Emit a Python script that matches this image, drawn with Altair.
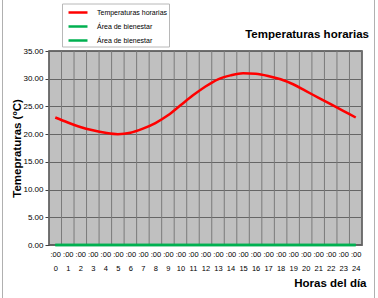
import altair as alt
import pandas as pd

hours = list(range(25))
temps = [23.0, 22.1, 21.3, 20.7, 20.25, 20.0, 20.25, 21.0, 22.0, 23.4, 25.2, 27.0,
         28.6, 29.9, 30.6, 31.0, 30.9, 30.5, 29.9, 29.0, 27.8, 26.6, 25.4, 24.2, 23.0]
bienestar_1 = [0.0, 0.0, 0.0, 0.0, 0.0, 0.0, 0.0, 0.0, 0.0, 0.0, 0.0, 0.0, 0.0,
               0.0, 0.0, 0.0, 0.0, 0.0, 0.0, 0.0, 0.0, 0.0, 0.0, 0.0, 0.0]
bienestar_2 = [0.0, 0.0, 0.0, 0.0, 0.0, 0.0, 0.0, 0.0, 0.0, 0.0, 0.0, 0.0, 0.0,
               0.0, 0.0, 0.0, 0.0, 0.0, 0.0, 0.0, 0.0, 0.0, 0.0, 0.0, 0.0]
series_names = ["Temperaturas horarias", "Área de bienestar 1", "Área de bienestar 2"]
series_colors = ["#FF0000", "#00B050", "#00B050"]
y_ticks = [0, 5, 10, 15, 20, 25, 30, 35]

rows = []
for h, t, b1, b2 in zip(hours, temps, bienestar_1, bienestar_2):
    rows.append({"hora": h, "valor": t, "serie": series_names[0]})
    rows.append({"hora": h, "valor": b1, "serie": series_names[1]})
    rows.append({"hora": h, "valor": b2, "serie": series_names[2]})
df = pd.DataFrame(rows)

grid_df = pd.DataFrame({"hora": [h - 0.5 for h in hours] + [hours[-1] + 0.5]})
title_df = pd.DataFrame({"t": ["Temperaturas horarias"]})

FONT = "Liberation Sans"
xscale = alt.Scale(domain=[-0.5, 24.5], nice=False, zero=False)
yscale = alt.Scale(domain=[0, 35], nice=False)

x_axis = alt.Axis(
    values=hours,
    labelExpr="[':00', datum.value + '']",
    grid=False,
    ticks=False,
    domain=False,
    labelFont=FONT,
    labelFontSize=7.5,
    labelColor="#000000",
    labelLineHeight=13.5,
    labelPadding=5.5,
    labelOverlap=False,
    labelFlush=False,
    title="Horas del día",
    titleFont=FONT,
    titleFontSize=11.5,
    titleFontWeight="bold",
    titleColor="#000000",
    titleAnchor="end",
    titleAlign="right",
    titleBaseline="middle",
    titleX=317,
    titleY=38,
)

vgrid = alt.Chart(grid_df).mark_rule(color="#7a7a7a", strokeWidth=1).encode(
    x=alt.X("hora:Q", scale=xscale, axis=x_axis)
)

lines = alt.Chart(df).mark_line(interpolate="monotone", strokeWidth=2.5).encode(
    x=alt.X("hora:Q", scale=xscale, axis=x_axis),
    y=alt.Y(
        "valor:Q",
        scale=yscale,
        axis=alt.Axis(
            values=y_ticks,
            format=".2f",
            grid=True,
            gridColor="#666666",
            gridWidth=1,
            domain=False,
            ticks=True,
            tickSize=4,
            tickColor="#404040",
            labelFont=FONT,
            labelFontSize=8,
            labelColor="#000000",
            labelPadding=2,
            title="Temepraturas (ºC)",
            titleFont=FONT,
            titleFontSize=11.5,
            titleFontWeight="bold",
            titleColor="#000000",
            titleAngle=270,
            titleAlign="center",
            titleBaseline="middle",
            titleX=-32,
            titleY=97,
        ),
    ),
    color=alt.Color(
        "serie:N",
        scale=alt.Scale(domain=series_names, range=series_colors),
        legend=alt.Legend(
            title=None,
            orient="none",
            legendX=13,
            legendY=-47.5,
            fillColor="#FFFFFF",
            strokeColor="#b8b8b8",
            padding=1,
            symbolType="M-1.46,0H1.46",
            symbolSize=169,
            symbolStrokeWidth=2.5,
            symbolOffset=7,
            labelOffset=11,
            rowPadding=1,
            labelFont=FONT,
            labelFontSize=7,
            labelColor="#000000",
            labelExpr="datum.label == 'Temperaturas horarias' ? datum.label : 'Área de bienestar'",
        ),
    ),
)

title = alt.Chart(title_df).mark_text(
    align="right", baseline="middle", font=FONT, fontSize=11.5, fontWeight="bold", color="#000000"
).encode(text="t:N", x=alt.value(320), y=alt.value(-16))

frame_left = alt.Chart(title_df).mark_rule(color="#b0b0b0", strokeWidth=1).encode(
    x=alt.value(-46.5), y=alt.value(-51), y2=alt.value(247)
)
frame_right = alt.Chart(title_df).mark_rule(color="#b0b0b0", strokeWidth=1).encode(
    x=alt.value(325.5), y=alt.value(-51), y2=alt.value(247)
)

chart = alt.layer(vgrid, lines, title, frame_left, frame_right).properties(
    width=313,
    height=194,
    autosize=alt.AutoSizeParams(type="none"),
    padding={"left": 49, "top": 51, "right": 16, "bottom": 53},
    background="#FFFFFF",
).configure_view(
    fill="#C0C0C0", stroke="#404040", strokeWidth=1.5
)

chart.save("out.html", embed_options={"renderer": "svg", "actions": False})
